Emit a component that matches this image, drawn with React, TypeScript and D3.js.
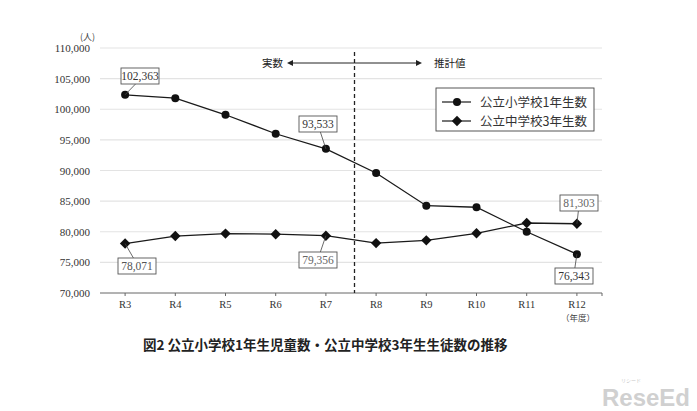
import React from "react";
import * as d3 from "d3";

const categories = ["R3", "R4", "R5", "R6", "R7", "R8", "R9", "R10", "R11", "R12"];
const elementary = [102363, 101800, 99100, 96000, 93533, 89600, 84250, 84000, 80000, 76343];
const juniorHigh = [78071, 79300, 79700, 79600, 79356, 78150, 78600, 79750, 81430, 81303];
const yTicks = [70000, 75000, 80000, 85000, 90000, 95000, 100000, 105000, 110000];
const seriesNames = ["公立小学校1年生数", "公立中学校3年生数"];

const W = 697, H = 411;
const left = 100, right = 602, top = 48, bottom = 293;

export default function App() {
  const x = d3.scaleBand<string>().domain(categories).range([left, right]);
  const cx = (c: string) => (x(c) as number) + x.bandwidth() / 2;
  const y = d3.scaleLinear().domain([70000, 110000]).range([bottom, top]);
  const fmt = d3.format(",");
  const line = d3.line<number>().x((_, i) => cx(categories[i])).y((v) => y(v));
  const diamond = "M0,-5.2L5.2,0L0,5.2L-5.2,0Z";
  const serif = "'Liberation Serif', 'DejaVu Serif', serif";
  const sans = "'Noto Sans CJK JP', 'Noto Sans', sans-serif";
  const dividerX = (cx("R7") + cx("R8")) / 2 + 3.5;

  // callouts: [series, index, box center x, box top y, color]
  const callouts: [number[], number, number, number, string][] = [
    [elementary, 0, 140, 68, "#333"],
    [elementary, 4, 318, 116, "#333"],
    [juniorHigh, 0, 137, 258, "#555"],
    [juniorHigh, 4, 318, 252, "#666"],
    [juniorHigh, 9, 579, 195, "#666"],
    [elementary, 9, 574, 268, "#333"],
  ];

  return (
    <svg width={W} height={H} style={{ position: "absolute", left: 0, top: 0, background: "#fff" }}>
      {yTicks.map((t) => (
        <g key={t}>
          {t !== 70000 && <line x1={left} x2={right} y1={y(t)} y2={y(t)} stroke="#e3e3e3" strokeWidth={1.2} />}
          <text x={90} y={y(t) + 4} textAnchor="end" fontFamily={serif} fontSize={11} fill="#333">{fmt(t)}</text>
        </g>
      ))}
      <text x={80} y={40} fontFamily={sans} fontSize={9} fill="#444">(人)</text>
      <line x1={left} x2={right} y1={bottom} y2={bottom} stroke="#666" strokeWidth={1} />
      {categories.map((c) => (
        <g key={c}>
          <line x1={cx(c)} x2={cx(c)} y1={bottom} y2={bottom + 3} stroke="#666" />
          <text x={cx(c)} y={bottom + 15} textAnchor="middle" fontFamily={serif} fontSize={10.5} fill="#333">{c}</text>
        </g>
      ))}
      <line x1={right} x2={right} y1={bottom} y2={bottom + 3} stroke="#666" />
      <text x={cx("R12") + 1} y={bottom + 28} textAnchor="middle" fontFamily={sans} fontSize={8.5} fill="#444">（年度）</text>

      <line x1={dividerX} x2={dividerX} y1={52} y2={bottom} stroke="#222" strokeWidth={1.3} strokeDasharray="4,3" />
      <text x={262} y={67} fontFamily={sans} fontSize={10.5} fill="#222">実数</text>
      <line x1={290} x2={dividerX} y1={63} y2={63} stroke="#222" strokeWidth={1} />
      <path d={`M287,63 L293,60 L293,66 Z`} fill="#222" />
      <line x1={dividerX} x2={418} y1={63} y2={63} stroke="#222" strokeWidth={1} />
      <path d={`M422,63 L416,60 L416,66 Z`} fill="#222" />
      <text x={434} y={67} fontFamily={sans} fontSize={10.5} fill="#222">推計値</text>

      <path d={line(elementary) as string} fill="none" stroke="#1a1a1a" strokeWidth={1.3} />
      <path d={line(juniorHigh) as string} fill="none" stroke="#1a1a1a" strokeWidth={1.3} />
      {elementary.map((v, i) => (
        <circle key={"e" + i} cx={cx(categories[i])} cy={y(v)} r={4} fill="#111" />
      ))}
      {juniorHigh.map((v, i) => (
        <path key={"j" + i} d={diamond} transform={`translate(${cx(categories[i])},${y(v)})`} fill="#111" />
      ))}

      {callouts.map(([s, i, bx, by, col], k) => {
        const px = cx(categories[i]);
        const py = y(s[i]);
        const bw = 38, bh = 16;
        const above = by + bh < py;
        const ly = above ? by + bh : by;
        return (
          <g key={"c" + k}>
            <line x1={bx + (px - bx) * 0.3} y1={ly} x2={px} y2={py} stroke="#444" strokeWidth={0.8} />
            <rect x={bx - bw / 2} y={by} width={bw} height={bh} fill="#fff" stroke="#555" strokeWidth={0.9} />
            <text x={bx} y={by + 12} textAnchor="middle" fontFamily={serif} fontSize={11.5} fill={col}>{fmt(s[i])}</text>
          </g>
        );
      })}

      <rect x={436} y={88} width={158} height={43} fill="#fff" stroke="#444" strokeWidth={0.9} />
      {seriesNames.map((n, i) => {
        const ly = 102 + i * 19;
        return (
          <g key={n}>
            <line x1={442} x2={471} y1={ly} y2={ly} stroke="#1a1a1a" strokeWidth={1.2} />
            {i === 0 ? (
              <circle cx={457} cy={ly} r={4} fill="#111" />
            ) : (
              <path d={diamond} transform={`translate(457,${ly})`} fill="#111" />
            )}
            <text x={480} y={ly + 5} fontFamily={sans} fontSize={12.5} fill="#333">{n}</text>
          </g>
        );
      })}

      <text x={143} y={350} fontFamily={sans} fontSize={13.5} fontWeight="bold" fill="#222">図2 公立小学校1年生児童数・公立中学校3年生生徒数の推移</text>

      <text x={602} y={406} fontFamily="'Liberation Sans', sans-serif" fontSize={24} fontWeight="bold" fill="#d0d0d0" textLength={88} lengthAdjust="spacingAndGlyphs">ReseEd</text>
      <text x={621} y={382} fontFamily={sans} fontSize={5} fill="#c8c8c8">リシード</text>
    </svg>
  );
}
